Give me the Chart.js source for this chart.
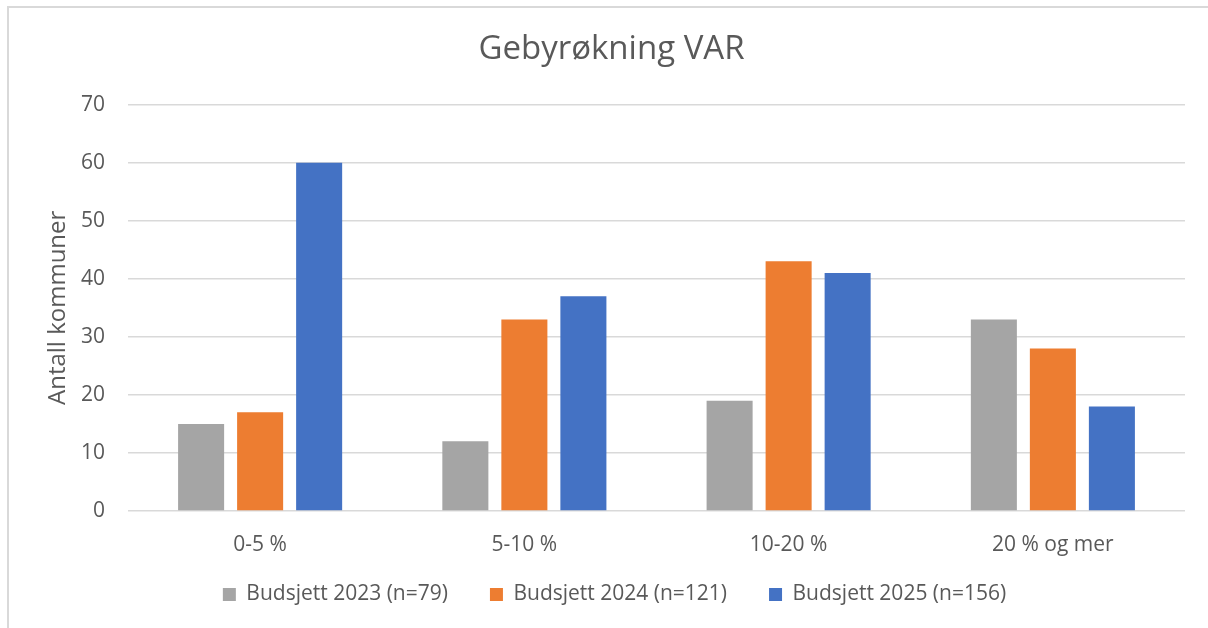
<!DOCTYPE html>
<html><head><meta charset="utf-8">
<script src="https://cdn.jsdelivr.net/npm/chart.js@4.4.1/dist/chart.umd.min.js"></script>
<style>
html,body{margin:0;padding:0;background:#fff;width:1208px;height:628px;overflow:hidden;position:relative}
#frame{position:absolute;left:7px;top:6px;width:1300px;height:700px;border-left:2px solid #d9d9d9;border-top:2px solid #d9d9d9}
#c{position:absolute;left:0;top:0}
</style></head>
<body>
<div id="frame"></div>
<canvas id="c" width="1208" height="628"></canvas>
<script>
const categories = ["0-5 %", "5-10 %", "10-20 %", "20 % og mer"];
const seriesNames = ["Budsjett 2023 (n=79)", "Budsjett 2024 (n=121)", "Budsjett 2025 (n=156)"];
const values2023 = [15, 12, 19, 33];
const values2024 = [17, 33, 43, 28];
const values2025 = [60, 37, 41, 18];
const yTicks = [0, 10, 20, 30, 40, 50, 60, 70];
const colors = ["#A5A5A5", "#ED7D31", "#4472C4"];

const FONT = "'Open Sans', sans-serif";
const TXT = "#595959";

function shiftDraw(box, dx, dy) {
  const d = box.draw;
  box.draw = function () {
    this.ctx.save();
    this.ctx.translate(dx, dy);
    d.apply(this, arguments);
    this.ctx.restore();
  };
}

const layoutFix = {
  id: 'layoutFix',
  beforeLayout(chart) {
    const lg = chart.legend;
    if (lg && !lg._patched) {
      const f = lg.fit;
      lg.fit = function () { f.call(this); this.height = 67; };
      shiftDraw(lg, 22, -19);
      lg._patched = true;
    }
    const tt = chart.titleBlock;
    if (tt && !tt._patched) {
      shiftDraw(tt, 19, 0);
      tt._patched = true;
    }
  }
};

new Chart(document.getElementById('c'), {
  type: 'bar',
  data: {
    labels: categories,
    datasets: [
      { label: seriesNames[0], data: values2023, backgroundColor: colors[0] },
      { label: seriesNames[1], data: values2024, backgroundColor: colors[1] },
      { label: seriesNames[2], data: values2025, backgroundColor: colors[2] }
    ]
  },
  options: {
    responsive: false,
    devicePixelRatio: 1,
    animation: false,
    layout: { padding: { left: 0, right: 23, top: 0, bottom: 0 } },
    datasets: { bar: { categoryPercentage: 0.67, barPercentage: 0.78 } },
    plugins: {
      title: {
        display: true,
        text: "Gebyrøkning VAR",
        color: TXT,
        font: { family: FONT, size: 33, weight: 'normal' },
        padding: { top: 30, bottom: 35 }
      },
      legend: {
        position: 'bottom',
        labels: {
          color: TXT,
          font: { family: FONT, size: 21 },
          boxWidth: 13,
          boxHeight: 13,
          padding: 42
        }
      },
      tooltip: { enabled: false }
    },
    scales: {
      x: {
        grid: { display: false, drawTicks: false },
        border: { display: false },
        ticks: { color: TXT, font: { family: FONT, size: 21 }, padding: 21 },
        afterFit(s) { s.height = 50; }
      },
      y: {
        min: 0, max: 70,
        afterBuildTicks(s) { s.ticks = yTicks.map(v => ({ value: v })); },
        grid: { color: "#d9d9d9", lineWidth: 1.5, drawTicks: false },
        border: { display: false },
        ticks: { color: TXT, font: { family: FONT, size: 21 }, padding: 23 },
        title: {
          display: true,
          text: "Antall kommuner",
          color: TXT,
          font: { family: FONT, size: 24 },
          padding: { top: 44, bottom: 0 }
        },
        afterFit(s) { s.width = 128; }
      }
    }
  },
  plugins: [layoutFix]
});
</script>
</body></html>
